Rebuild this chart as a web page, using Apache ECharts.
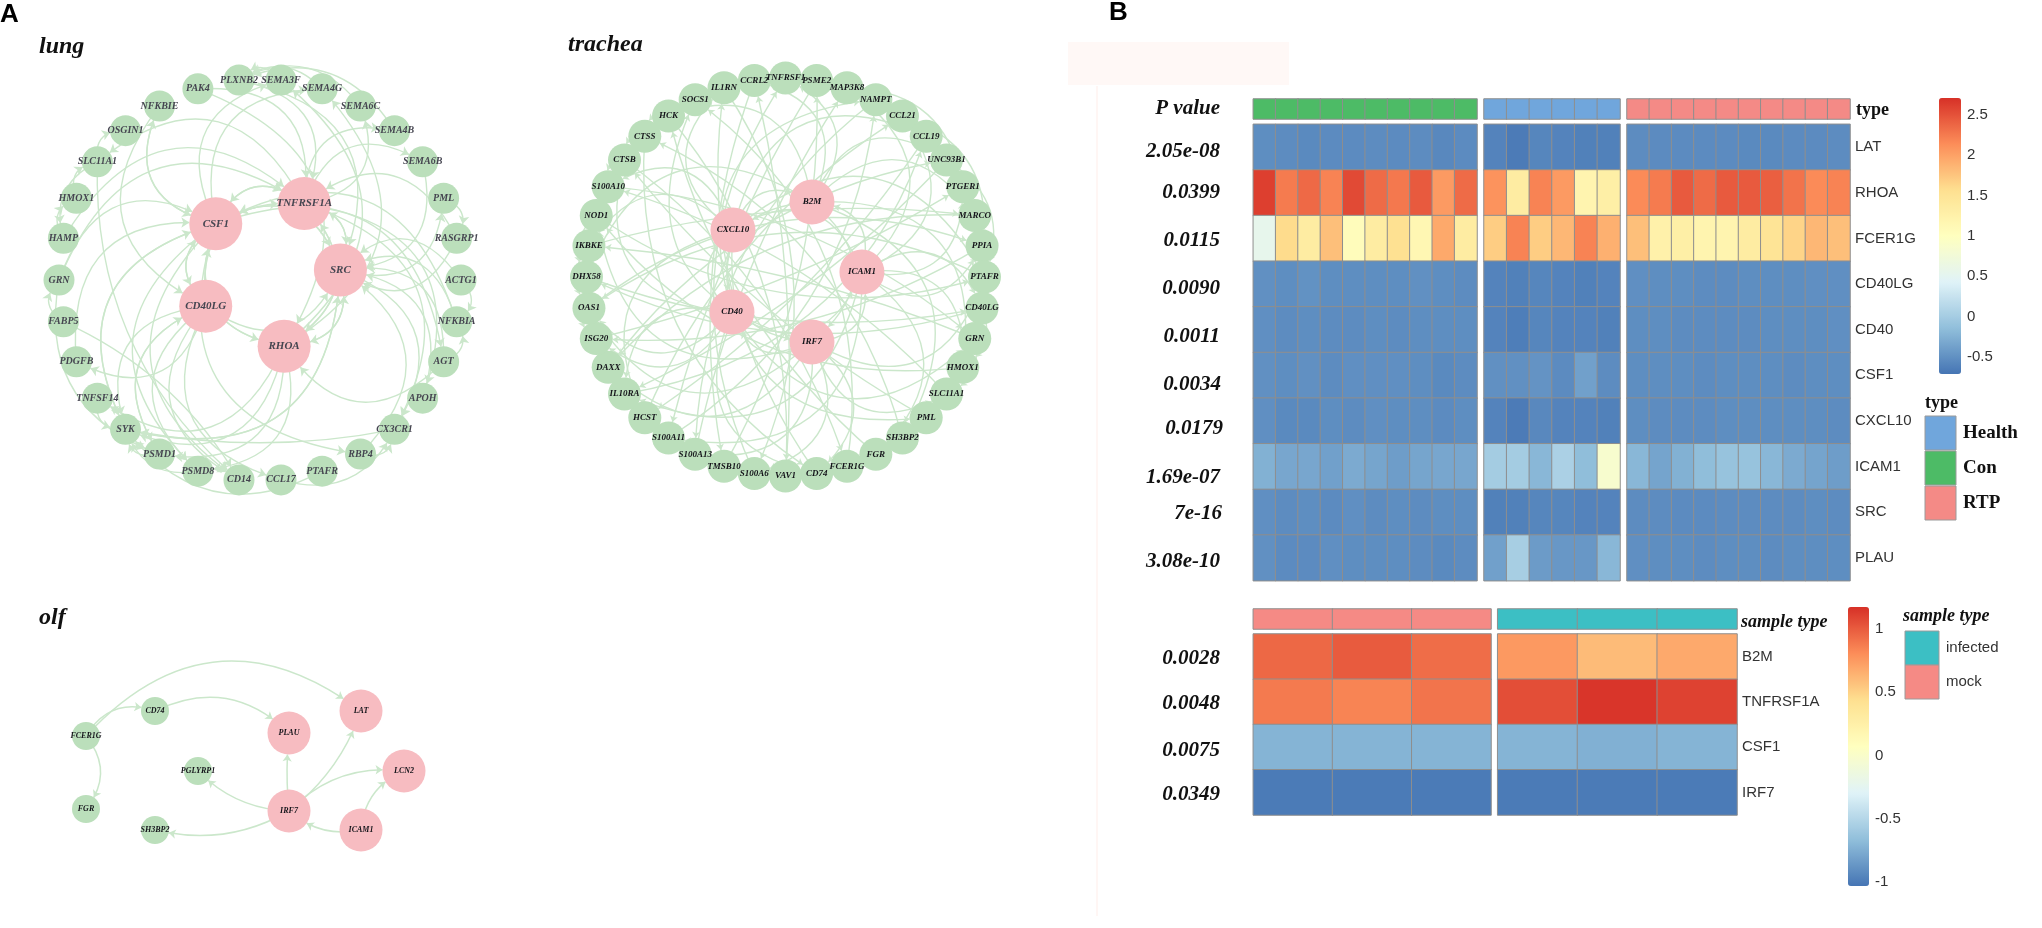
<!DOCTYPE html>
<html><head><meta charset="utf-8">
<style>html,body{margin:0;padding:0;background:#fff}#c{width:2042px;height:928px}</style>
<script src="https://cdn.jsdelivr.net/npm/echarts@6/dist/echarts.min.js"></script>
</head><body><div id="c"></div>
<script>
// ---------- network data ----------
const lungRing = ["PLXNB2","PAK4","NFKBIE","OSGIN1","SLC11A1","HMOX1","HAMP","GRN","FABP5","PDGFB","TNFSF14","SYK","PSMD1","PSMD8","CD14","CCL17","PTAFR","RBP4","CX3CR1","APOH","AGT","NFKBIA","ACTG1","RASGRP1","PML","SEMA6B","SEMA4B","SEMA6C","SEMA4G","SEMA3F"];
const lungHubs = ["CSF1","TNFRSF1A","SRC","CD40LG","RHOA"];
const lungHubX = [-0.22,0.22,0.40,-0.27,0.12];
const lungHubY = [0.28,0.38,0.05,-0.13,-0.33];
const lungEdges = [["CSF1","NFKBIE"],["NFKBIE","CSF1"],["NFKBIE","CD40LG"],["PAK4","TNFRSF1A"],["PAK4","RHOA"],["PLXNB2","SRC"],["PLXNB2","TNFRSF1A"],["CSF1","SEMA3F"],["CSF1","SEMA4G"],["TNFRSF1A","SEMA6C"],["TNFRSF1A","SEMA4B"],["TNFRSF1A","SEMA6B"],["RHOA","SEMA4G"],["RHOA","SEMA3F"],
["GRN","TNFRSF1A"],["HAMP","TNFRSF1A"],["TNFRSF1A","SLC11A1"],["GRN","CSF1"],["GRN","PSMD1"],["FABP5","CD14"],["SLC11A1","CD14"],["PDGFB","CSF1"],["CD40LG","PDGFB"],["RHOA","TNFSF14"],["SYK","CSF1"],["SYK","SRC"],["CSF1","SYK"],["CD40LG","SYK"],["RHOA","SYK"],["SRC","SYK"],["PSMD1","CD40LG"],["CD40LG","PSMD8"],["CD40LG","CD14"],["CD40LG","PSMD1"],["CD40LG","CSF1"],["CSF1","CD40LG"],["CD40LG","TNFRSF1A"],["CD40LG","SRC"],["CD40LG","CCL17"],["CSF1","RHOA"],["RHOA","CSF1"],["CSF1","SRC"],["SRC","CSF1"],["CSF1","TNFRSF1A"],["TNFRSF1A","CSF1"],["CSF1","CD14"],["CSF1","PSMD8"],["RHOA","TNFRSF1A"],["TNFRSF1A","RHOA"],["RHOA","SRC"],["SRC","RHOA"],["TNFRSF1A","SRC"],["SRC","TNFRSF1A"],["CSF1","RBP4"],["CCL17","CX3CR1"],["CX3CR1","SYK"],["PTAFR","SYK"],["RBP4","SRC"],["APOH","SRC"],["AGT","SRC"],["NFKBIA","SRC"],["ACTG1","SRC"],["RASGRP1","SRC"],["SRC","PML"],["SRC","CX3CR1"],["AGT","RHOA"],["RASGRP1","TNFRSF1A"],["NFKBIA","CSF1"],["SEMA6B","SRC"],["CSF1","AGT"],["RHOA","PSMD1"],["RHOA","PSMD8"],["TNFRSF1A","APOH"],["TNFRSF1A","CX3CR1"],
["HMOX1","SLC11A1"],["SLC11A1","OSGIN1"],["HAMP","HMOX1"],["SLC11A1","HAMP"],["SEMA6C","PLXNB2"],["SEMA4B","PLXNB2"],["SEMA4G","PLXNB2"],["SEMA3F","PLXNB2"],["FABP5","GRN"],["TNFSF14","SYK"],["PSMD1","SYK"],["PSMD8","SYK"],["RBP4","CX3CR1"],["AGT","NFKBIA"],["ACTG1","NFKBIA"],["PML","RASGRP1"]];

const tracheaRing = ["TNFRSF1","PSME2","MAP3K8","NAMPT","CCL21","CCL19","UNC93B1","PTGER1","MARCO","PPIA","PTAFR","CD40LG","GRN","HMOX1","SLC11A1","PML","SH3BP2","FGR","FCER1G","CD74","VAV1","S100A6","TMSB10","S100A13","S100A11","HCST","IL10RA","DAXX","ISG20","OAS1","DHX58","IKBKE","NOD1","S100A10","CTSB","CTSS","HCK","SOCS1","IL1RN","CCRL2"];
const tracheaHubs = ["CXCL10","B2M","ICAM1","CD40","IRF7"];
const tracheaHubX = [-0.264,0.133,0.384,-0.269,0.133];
const tracheaHubY = [0.236,0.377,0.025,-0.176,-0.327];
const tracheaEdges = [["CXCL10","IKBKE"],["CXCL10","S100A10"],["CXCL10","PTAFR"],["CXCL10","CCL19"],["CXCL10","IL1RN"],["CXCL10","HCST"],["CXCL10","PML"],["CXCL10","B2M"],["ICAM1","CXCL10"],["CXCL10","IRF7"],["CD40","CXCL10"],
["CD40","OAS1"],["CD40","ISG20"],["CD40","IL10RA"],["CD40","CTSB"],["CD40","NAMPT"],["CD40","CD74"],["CD40","GRN"],["CD40","ICAM1"],["IRF7","CD40"],["B2M","CD40"],
["B2M","TNFRSF1"],["B2M","CCRL2"],["B2M","UNC93B1"],["B2M","MARCO"],["B2M","HCK"],["B2M","DHX58"],["ICAM1","B2M"],["B2M","IRF7"],["B2M","SH3BP2"],["B2M","HMOX1"],
["ICAM1","PPIA"],["ICAM1","CD40LG"],["ICAM1","HMOX1"],["ICAM1","MAP3K8"],["ICAM1","CCL21"],["ICAM1","PTGER1"],["ICAM1","FGR"],["ICAM1","S100A11"],["ICAM1","IL10RA"],["IRF7","ICAM1"],
["IRF7","DAXX"],["IRF7","S100A13"],["IRF7","S100A6"],["IRF7","OAS1"],["IRF7","SOCS1"],["IRF7","PTAFR"],["IRF7","SLC11A1"],["IRF7","CD74"],["IRF7","NOD1"],
["CCL21","PPIA"],["UNC93B1","PTAFR"],["MAP3K8","PTGER1"],["CD40LG","HMOX1"],["GRN","SLC11A1"],["IKBKE","OAS1"],["NOD1","DHX58"],["CTSS","CTSB"],["HCK","CTSS"],["OAS1","ISG20"],["CTSB","S100A10"],
["S100A10","GRN"],["NOD1","PTAFR"],["IKBKE","MARCO"],["DHX58","CD40LG"],["OAS1","PPIA"],["ISG20","PTGER1"],["DAXX","UNC93B1"],["IL10RA","CCL19"],["HCST","CCL21"],["S100A11","NAMPT"],["S100A13","MAP3K8"],["TMSB10","PSME2"],["S100A6","TNFRSF1"],["VAV1","CCRL2"],["CD74","IL1RN"],["FCER1G","SOCS1"],["FGR","HCK"],["SH3BP2","CTSS"],["PML","CTSB"],["SLC11A1","S100A10"],["HMOX1","NOD1"],["GRN","IKBKE"],["CD40LG","DHX58"],["PTAFR","OAS1"],["PPIA","ISG20"],["MARCO","DAXX"],["CCL19","HCST"],["CCRL2","TMSB10"],["IL1RN","S100A6"],["PSME2","S100A11"],["HCK","VAV1"],["CTSS","CD74"],["CTSB","FCER1G"],["NAMPT","S100A13"],["UNC93B1","IL10RA"]];

const olfGreen = ["FCER1G","CD74","FGR","PGLYRP1","SH3BP2"];
const olfGreenX = [11.5,28.75,11.5,39.5,28.75];
const olfGreenY = [33.5,39.75,15.25,24.75,10];
const olfRed = ["PLAU","LAT","LCN2","IRF7","ICAM1"];
const olfRedX = [62.25,80.25,91,62.25,80.25];
const olfRedY = [34.25,39.75,24.75,14.75,10];
const olfEdges = [["FCER1G","LAT"],["FCER1G","CD74"],["CD74","PLAU"],["FCER1G","FGR"],["IRF7","PGLYRP1"],["IRF7","SH3BP2"],["IRF7","PLAU"],["IRF7","LAT"],["ICAM1","IRF7"],["IRF7","LCN2"],["ICAM1","LCN2"]];
const olfCurves = [0.45,0.4,0.35,0.4,0.2,0.2,0.05,-0.15,0.25,0.25,0.3];

// ---------- heatmap data ----------
const genesTop = ["LAT","RHOA","FCER1G","CD40LG","CD40","CSF1","CXCL10","ICAM1","SRC","PLAU"];
const pValuesTop = ["2.05e-08","0.0399","0.0115","0.0090","0.0011","0.0034","0.0179","1.69e-07","7e-16","3.08e-10"];
const conValues = [
[-0.52,-0.53,-0.55,-0.54,-0.54,-0.53,-0.54,-0.53,-0.56,-0.54],
[2.62,2.25,2.36,2.2,2.55,2.35,2.27,2.45,2.05,2.35],
[0.55,1.6,1.35,1.8,1.05,1.35,1.55,1.15,1.95,1.35],
[-0.5,-0.52,-0.49,-0.52,-0.52,-0.52,-0.52,-0.5,-0.52,-0.53],
[-0.51,-0.53,-0.52,-0.53,-0.53,-0.52,-0.53,-0.52,-0.52,-0.52],
[-0.5,-0.52,-0.5,-0.53,-0.51,-0.51,-0.51,-0.52,-0.55,-0.53],
[-0.51,-0.55,-0.55,-0.52,-0.53,-0.51,-0.52,-0.52,-0.54,-0.52],
[-0.25,-0.33,-0.33,-0.38,-0.3,-0.34,-0.4,-0.34,-0.33,-0.33],
[-0.51,-0.53,-0.52,-0.54,-0.51,-0.53,-0.52,-0.53,-0.52,-0.52],
[-0.5,-0.54,-0.54,-0.51,-0.52,-0.52,-0.52,-0.53,-0.55,-0.53]];
const healthValues = [
[-0.6,-0.66,-0.58,-0.6,-0.62,-0.62],
[2.1,1.35,2.2,2.05,1.2,1.3],
[1.7,2.2,1.7,1.85,2.2,1.9],
[-0.6,-0.62,-0.58,-0.6,-0.62,-0.6],
[-0.6,-0.64,-0.58,-0.6,-0.6,-0.62],
[-0.5,-0.5,-0.48,-0.54,-0.38,-0.53],
[-0.6,-0.66,-0.56,-0.6,-0.6,-0.62],
[0.0,0.0,-0.2,0.05,-0.15,0.85],
[-0.62,-0.62,-0.58,-0.58,-0.6,-0.6],
[-0.38,0.02,-0.42,-0.45,-0.45,-0.2]];
const rtpValues = [
[-0.53,-0.54,-0.54,-0.54,-0.54,-0.55,-0.55,-0.54,-0.54,-0.53],
[2.15,2.25,2.45,2.35,2.45,2.45,2.42,2.3,2.15,2.2],
[1.8,1.25,1.3,1.2,1.2,1.35,1.5,1.65,1.85,1.8],
[-0.51,-0.52,-0.52,-0.53,-0.53,-0.52,-0.52,-0.52,-0.51,-0.51],
[-0.52,-0.52,-0.53,-0.53,-0.53,-0.53,-0.52,-0.52,-0.52,-0.51],
[-0.52,-0.52,-0.52,-0.53,-0.52,-0.52,-0.52,-0.53,-0.52,-0.52],
[-0.52,-0.53,-0.53,-0.53,-0.52,-0.52,-0.52,-0.52,-0.52,-0.53],
[-0.2,-0.35,-0.25,-0.15,-0.1,-0.1,-0.2,-0.3,-0.35,-0.4],
[-0.53,-0.53,-0.54,-0.54,-0.53,-0.53,-0.53,-0.53,-0.52,-0.53],
[-0.51,-0.52,-0.52,-0.53,-0.52,-0.52,-0.53,-0.52,-0.52,-0.52]];
const genesBottom = ["B2M","TNFRSF1A","CSF1","IRF7"];
const pValuesBottom = ["0.0028","0.0048","0.0075","0.0349"];
const mockValues = [[0.95,1.0,0.93],[0.88,0.84,0.9],[-0.72,-0.72,-0.72],[-1.0,-1.0,-1.0]];
const infectedValues = [[0.75,0.6,0.68],[1.05,1.15,1.1],[-0.72,-0.74,-0.72],[-1.0,-1.0,-1.0]];
const topTicks = [-0.5,0,0.5,1,1.5,2,2.5];
const bottomTicks = [-1,-0.5,0,0.5,1];
const typeLegend = ["Health","Con","RTP"];
const sampleLegend = ["infected","mock"];

// ---------- layout & styles ----------
const SERIF='"Liberation Serif"', SANS='"Liberation Sans"';
const GREEN='#bbdfbb', PINK='#f7bcc1', EDGE='#cbe7cb';
const RAMP=['#4575b4','#91bfdb','#e0f3f8','#ffffbf','#fee090','#fc8d59','#d73027'];
const C={Health:'#70a6dc',Con:'#4dbb66',RTP:'#f48a86',infected:'#3cbfc4',mock:'#f58a85'};
const grid=[],xAxis=[],yAxis=[],series=[],visualMap=[],graphic=[];

function addGrid(l,t,w,h,xo,yo){
  grid.push({left:l,top:t,width:w,height:h,containLabel:false});
  const i=grid.length-1;
  xAxis.push(Object.assign({gridIndex:i,show:false},xo));
  yAxis.push(Object.assign({gridIndex:i,show:false},yo));
  return i;
}
const curvePat=[0.16,-0.24,0.1,-0.14,0.28,-0.08,0.2,-0.3];
function network(ring,hubs,hx,hy,edges,cfg){
  const g=addGrid(cfg.cx-cfg.r*1.1,cfg.cy-cfg.r*1.1,cfg.r*2.2,cfg.r*2.2,
    {type:'value',min:-1.1,max:1.1},{type:'value',min:-1.1,max:1.1});
  const pos={};
  const nodes=ring.map((n,i)=>{
    const a=(cfg.start-i*360/ring.length*cfg.dir)*Math.PI/180;
    const v=[Math.cos(a),Math.sin(a)]; pos[n]=v;
    return {name:n,value:v,symbolSize:cfg.ringSize,itemStyle:{color:GREEN},label:{fontSize:cfg.ringFont}};
  });
  hubs.forEach((n,i)=>{pos[n]=[hx[i],hy[i]];
    nodes.push({name:n,value:pos[n],symbolSize:cfg.hubSize,itemStyle:{color:PINK},label:{fontSize:cfg.hubFont}});});
  let k=0;
  const links=edges.map(([s,t])=>{
    const p=pos[s],q=pos[t];
    const isRing=ring.includes(s)&&ring.includes(t);
    const di=isRing?Math.abs(ring.indexOf(s)-ring.indexOf(t)):99;
    const sep=Math.min(di,ring.length-di);
    let c;
    if(sep<=5){
      const nx=-(-p[1]+q[1]), ny=-(q[0]-p[0]);   // screen-space normal
      const mx=(p[0]+q[0])/2,my=-(p[1]+q[1])/2;
      c=(nx*mx+ny*my>0?1:-1)*(sep<=1?0.6:0.42);
    } else { c=curvePat[k++%curvePat.length]; }
    return {source:s,target:t,lineStyle:{curveness:c}};
  });
  series.push({type:'graph',coordinateSystem:'cartesian2d',xAxisIndex:g,yAxisIndex:g,silent:true,
    data:nodes,links,edgeSymbol:['none','arrow'],edgeSymbolSize:cfg.arrow,z:2,animation:false,
    lineStyle:{color:EDGE,width:1.4,opacity:1},
    label:{show:true,position:'inside',fontFamily:SERIF,fontStyle:'italic',fontWeight:'bold',color:cfg.textColor,overflow:'none'},
    emphasis:{disabled:true}});
}
network(lungRing,lungHubs,lungHubX,lungHubY,lungEdges,{cx:260,cy:280,r:201,start:96,dir:-1,ringSize:31,hubSize:53,ringFont:10,hubFont:11,arrow:8,textColor:'#454550'});
network(tracheaRing,tracheaHubs,tracheaHubX,tracheaHubY,tracheaEdges,{cx:785.5,cy:277,r:199,start:90,dir:1,ringSize:33,hubSize:45,ringFont:9,hubFont:9,arrow:6,textColor:'#14141a'});

// olf
(function(){
  const g=addGrid(40,670,400,200,{type:'value',min:0,max:100},{type:'value',min:0,max:50});
  const nodes=[];
  olfGreen.forEach((n,i)=>nodes.push({name:n,value:[olfGreenX[i],olfGreenY[i]],symbolSize:28,itemStyle:{color:GREEN}}));
  olfRed.forEach((n,i)=>nodes.push({name:n,value:[olfRedX[i],olfRedY[i]],symbolSize:43,itemStyle:{color:PINK}}));
  series.push({type:'graph',coordinateSystem:'cartesian2d',xAxisIndex:g,yAxisIndex:g,silent:true,
    data:nodes,links:olfEdges.map(([s,t],i)=>({source:s,target:t,lineStyle:{curveness:olfCurves[i]}})),
    edgeSymbol:['none','arrow'],edgeSymbolSize:7,animation:false,
    lineStyle:{color:EDGE,width:1.5,opacity:1},
    label:{show:true,position:'inside',fontFamily:SERIF,fontStyle:'italic',fontWeight:'bold',fontSize:8,color:'#14141a'},
    emphasis:{disabled:true}});
})();

// heat blocks
const CELL={borderColor:'#8e8e8e',borderWidth:1};
function heat(l,t,w,h,matrix,rows,labels,color){
  const yo={type:'category',inverse:true,data:rows};
  if(labels) Object.assign(yo,{show:true,position:'right',axisLine:{show:false},axisTick:{show:false},splitLine:{show:false},
    axisLabel:{show:true,margin:5,fontFamily:SANS,fontSize:15,color:'#333'}});
  const g=addGrid(l,t,w,h,{type:'category',data:matrix[0].map((_,i)=>i)},yo);
  const data=[];
  matrix.forEach((r,y)=>r.forEach((v,x)=>data.push([x,y,v])));
  series.push({type:'heatmap',xAxisIndex:g,yAxisIndex:g,data,silent:true,animation:false,progressive:0,
    itemStyle:Object.assign({},CELL,color?{color}:{}),emphasis:{disabled:true}});
  return series.length-1;
}
const one=n=>[new Array(n).fill(1)];
const topIdx=[], botIdx=[];
heat(1253.3,99,223.7,20,one(10),['type'],false,C.Con);
heat(1484,99,136,20,one(6),['type'],false,C.Health);
heat(1627,99,223,20,one(10),['type'],false,C.RTP);
topIdx.push(heat(1253.3,124.3,223.7,456.4,conValues,genesTop,false));
topIdx.push(heat(1484,124.3,136,456.4,healthValues,genesTop,false));
topIdx.push(heat(1627,124.3,223,456.4,rtpValues,genesTop,true));
heat(1253.3,609,237.7,20,one(3),['s'],false,C.mock);
heat(1497.7,609,239.3,20,one(3),['s'],false,C.infected);
botIdx.push(heat(1253.3,634,237.7,181,mockValues,genesBottom,false));
botIdx.push(heat(1497.7,634,239.3,181,infectedValues,genesBottom,true));

// colour bars
function cbar(l,t,w,h,mn,mx,ticks,idx){
  visualMap.push({type:'continuous',min:mn,max:mx,seriesIndex:idx,left:l,top:t,itemWidth:w,itemHeight:h,padding:0,
    calculable:false,realtime:false,text:['',''],showLabel:false,hoverLink:false,inRange:{color:RAMP},orient:'vertical'});
  addGrid(l,t,w,h,{type:'value',min:0,max:1},{type:'value',min:mn,max:mx,show:true,position:'right',
    axisLine:{show:false},axisTick:{show:false},splitLine:{show:false},
    axisLabel:{margin:6,fontFamily:SANS,fontSize:15,color:'#333',customValues:ticks}});
}
cbar(1939,98,22,276,-0.71,2.71,topTicks,topIdx);
cbar(1848,607,21,279,-1.03,1.17,bottomTicks,botIdx);

// ---------- text ----------
function txt(s,x,y,o){graphic.push({type:'text',x,y,silent:true,z:20,style:Object.assign({text:s,fill:'#111',verticalAlign:'middle'},o)});}
const TI={fontFamily:SERIF,fontStyle:'italic',fontWeight:'bold',fontSize:24,align:'left'};
txt('A',0,15,{fontFamily:SANS,fontWeight:'bold',fontSize:26,fill:'#000',align:'left'});
txt('B',1109,13,{fontFamily:SANS,fontWeight:'bold',fontSize:26,fill:'#000',align:'left'});
txt('lung',39,47,TI); txt('trachea',568,45,TI); txt('olf',39,618,TI);
const PV={fontFamily:SERIF,fontStyle:'italic',fontWeight:'bold',fontSize:21,align:'right'};
txt('P value',1220,109,PV);
const pvTopY=[152,193,241,289,337,385,429,478,514,562], pvTopX=[1220,1220,1220,1220,1220,1221,1223,1220,1222,1220];
pValuesTop.forEach((s,i)=>txt(s,pvTopX[i],pvTopY[i],PV));
const pvBotY=[659,704,751,795];
pValuesBottom.forEach((s,i)=>txt(s,1220,pvBotY[i],PV));
txt('type',1856,110,{fontFamily:SERIF,fontWeight:'bold',fontSize:18,align:'left'});
txt('sample type',1741,622,{fontFamily:SERIF,fontStyle:'italic',fontWeight:'bold',fontSize:18,align:'left'});
txt('type',1925,403,{fontFamily:SERIF,fontWeight:'bold',fontSize:18,align:'left'});
txt('sample type',1903,616,{fontFamily:SERIF,fontStyle:'italic',fontWeight:'bold',fontSize:18,align:'left'});
// legends
function sw(x,y,w,h,c){graphic.push({type:'rect',silent:true,z:15,shape:{x,y,width:w,height:h},style:{fill:c,stroke:'#9a9a9a',lineWidth:1}});}
const swY=[416,451,486], lbY=[433,468,503];
typeLegend.forEach((n,i)=>{sw(1925,swY[i],31,34,C[n]);txt(n,1963,lbY[i],{fontFamily:SERIF,fontWeight:'bold',fontSize:19,align:'left'});});
const sY=[631,665];
sampleLegend.forEach((n,i)=>{sw(1905,sY[i],34,34,C[n]);txt(n,1946,sY[i]+17,{fontFamily:SANS,fontSize:15,fill:'#333',align:'left'});});
// faint scan artefacts of the source figure
graphic.push({type:'rect',silent:true,z:0,shape:{x:1068,y:42,width:221,height:43},style:{fill:'#fff8f6'}});
graphic.push({type:'rect',silent:true,z:0,shape:{x:1096,y:86,width:2,height:830},style:{fill:'#fff6f4'}});

const chart=echarts.init(document.getElementById('c'),null,{renderer:'canvas'});
chart.setOption({animation:false,backgroundColor:'#fff',grid,xAxis,yAxis,series,visualMap,graphic});
</script></body></html>
